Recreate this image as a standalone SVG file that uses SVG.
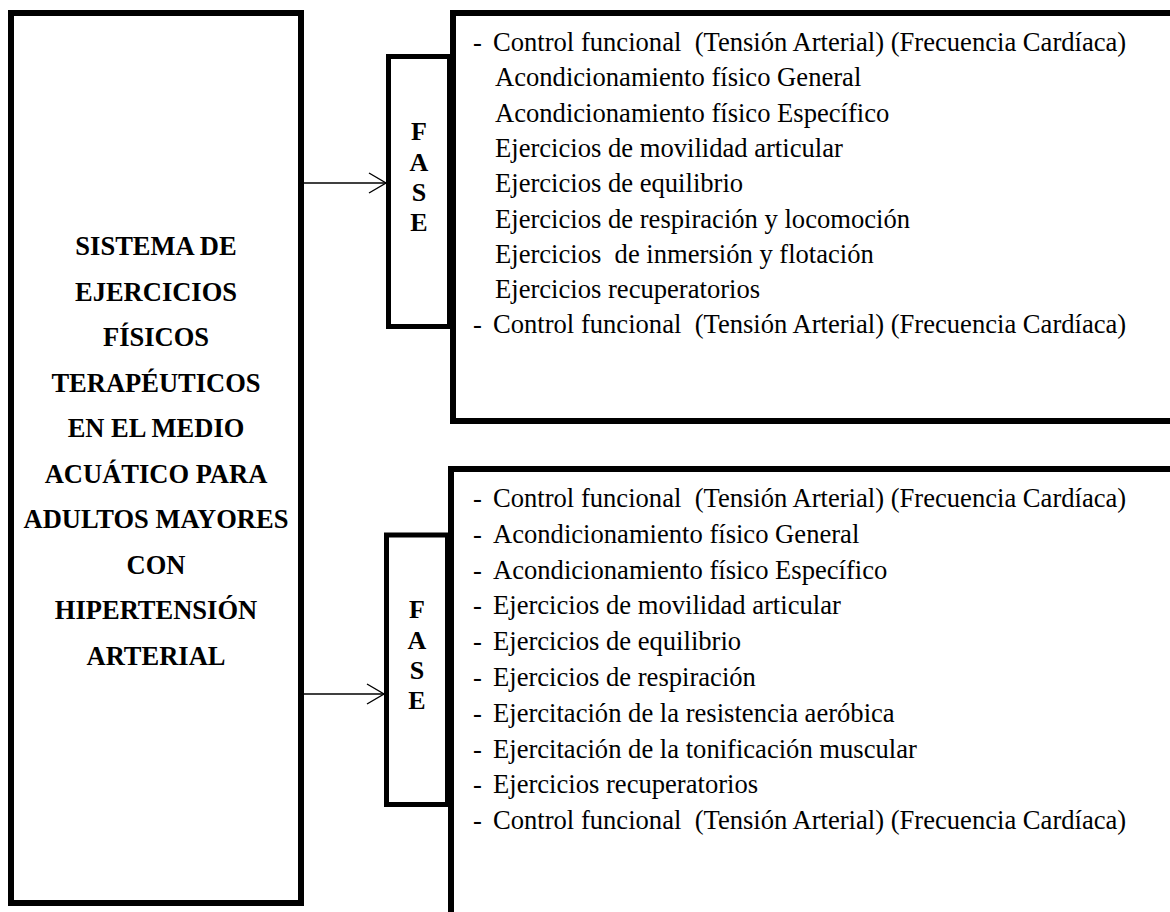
<svg xmlns="http://www.w3.org/2000/svg" width="1170" height="912" viewBox="0 0 1170 912">
<style>
.box{fill:#fff;stroke:#000;stroke-width:6}
.fase{fill:#fff;stroke:#000;stroke-width:5}
.title{font-family:"Liberation Serif","Times New Roman",serif;font-weight:bold;font-size:26.5px;text-anchor:middle;fill:#000}
.letter{font-family:"Liberation Serif","Times New Roman",serif;font-weight:bold;font-size:26px;text-anchor:middle;fill:#000}
.item{font-family:"Liberation Serif","Times New Roman",serif;font-size:26.6px;fill:#000;white-space:pre}
.conn{stroke:#000;stroke-width:1.4;fill:none}
</style>
<defs>
<marker id="open" markerUnits="userSpaceOnUse" markerWidth="20" markerHeight="24" refX="18" refY="11" orient="auto">
<path d="M1,1 L18,11 L1,21" fill="none" stroke="#000" stroke-width="1.4"/>
</marker>
</defs>
<rect width="1170" height="912" fill="#fff"/>
<g id="fase-panel-1">
<rect class="box" x="453" y="13" width="740" height="408"/>
<text class="item" x="473" y="51">-</text>
<text class="item" x="493" y="51" xml:space="preserve">Control funcional  (Tensión Arterial) (Frecuencia Cardíaca)</text>
<text class="item" x="495" y="86.3">Acondicionamiento físico General</text>
<text class="item" x="495" y="121.6">Acondicionamiento físico Específico</text>
<text class="item" x="495" y="156.9">Ejercicios de movilidad articular</text>
<text class="item" x="495" y="192.2">Ejercicios de equilibrio</text>
<text class="item" x="495" y="227.5">Ejercicios de respiración y locomoción</text>
<text class="item" x="495" y="262.8" xml:space="preserve">Ejercicios  de inmersión y flotación</text>
<text class="item" x="495" y="298.1">Ejercicios recuperatorios</text>
<text class="item" x="473" y="333.4">-</text>
<text class="item" x="493" y="333.4" xml:space="preserve">Control funcional  (Tensión Arterial) (Frecuencia Cardíaca)</text>
</g>
<g id="fase-panel-2">
<rect class="box" x="451" y="469" width="740" height="460"/>
<text class="item" x="473" y="507">-</text>
<text class="item" x="493" y="507" xml:space="preserve">Control funcional  (Tensión Arterial) (Frecuencia Cardíaca)</text>
<text class="item" x="473" y="542.8">-</text>
<text class="item" x="493" y="542.8">Acondicionamiento físico General</text>
<text class="item" x="473" y="578.6">-</text>
<text class="item" x="493" y="578.6">Acondicionamiento físico Específico</text>
<text class="item" x="473" y="614.4">-</text>
<text class="item" x="493" y="614.4">Ejercicios de movilidad articular</text>
<text class="item" x="473" y="650.2">-</text>
<text class="item" x="493" y="650.2">Ejercicios de equilibrio</text>
<text class="item" x="473" y="686">-</text>
<text class="item" x="493" y="686">Ejercicios de respiración</text>
<text class="item" x="473" y="721.8">-</text>
<text class="item" x="493" y="721.8">Ejercitación de la resistencia aeróbica</text>
<text class="item" x="473" y="757.6">-</text>
<text class="item" x="493" y="757.6">Ejercitación de la tonificación muscular</text>
<text class="item" x="473" y="793.4">-</text>
<text class="item" x="493" y="793.4">Ejercicios recuperatorios</text>
<text class="item" x="473" y="829.2">-</text>
<text class="item" x="493" y="829.2" xml:space="preserve">Control funcional  (Tensión Arterial) (Frecuencia Cardíaca)</text>
</g>
<g id="fase-1">
<rect class="fase" x="388.5" y="56.5" width="61" height="270"/>
<text class="letter" x="419" y="140">F</text>
<text class="letter" x="419" y="171">A</text>
<text class="letter" x="419" y="201">S</text>
<text class="letter" x="419" y="231">E</text>
</g>
<g id="fase-2">
<rect class="fase" x="386.5" y="535" width="61" height="269.5"/>
<text class="letter" x="417" y="618">F</text>
<text class="letter" x="417" y="649">A</text>
<text class="letter" x="417" y="679">S</text>
<text class="letter" x="417" y="709">E</text>
</g>
<g id="sistema">
<rect class="box" x="11" y="13" width="290" height="890"/>
<text class="title" x="156" y="255">SISTEMA DE</text>
<text class="title" x="156" y="300.5">EJERCICIOS</text>
<text class="title" x="156" y="346">FÍSICOS</text>
<text class="title" x="156" y="391.5">TERAPÉUTICOS</text>
<text class="title" x="156" y="437">EN EL MEDIO</text>
<text class="title" x="156" y="482.5">ACUÁTICO PARA</text>
<text class="title" x="156" y="528">ADULTOS MAYORES</text>
<text class="title" x="156" y="573.5">CON</text>
<text class="title" x="156" y="619">HIPERTENSIÓN</text>
<text class="title" x="156" y="664.5">ARTERIAL</text>
</g>
<g id="connectors">
<line class="conn" x1="304" y1="183" x2="386" y2="183" marker-end="url(#open)"/>
<line class="conn" x1="304" y1="694" x2="384" y2="694" marker-end="url(#open)"/>
</g>
</svg>
